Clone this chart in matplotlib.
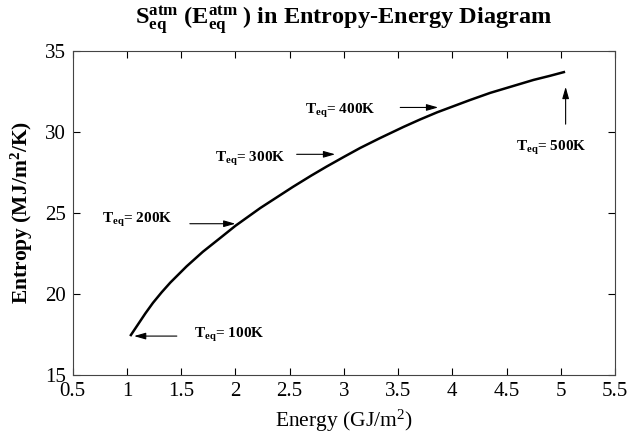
import matplotlib
matplotlib.use("Agg")
import matplotlib.pyplot as plt

plt.rcParams['font.family'] = ['Liberation Serif', 'DejaVu Serif']
plt.rcParams['mathtext.fontset'] = 'custom'
plt.rcParams['mathtext.rm'] = 'Liberation Serif'
plt.rcParams['mathtext.bf'] = 'Liberation Serif:bold'
plt.rcParams['mathtext.it'] = 'Liberation Serif:italic'

# Curve data
energy = [1.03, 1.10, 1.17, 1.24, 1.32, 1.40, 1.55, 1.70, 1.86, 2.00, 2.23, 2.38, 2.53,
          2.70, 2.84, 3.00, 3.15, 3.33, 3.55, 3.70, 3.86, 4.00, 4.16, 4.35, 4.55, 4.75,
          4.90, 5.04]
entropy = [17.4, 18.1, 18.8, 19.45, 20.1, 20.7, 21.7, 22.6, 23.45, 24.2, 25.3, 25.95, 26.6,
           27.3, 27.85, 28.45, 29.0, 29.6, 30.3, 30.75, 31.2, 31.55, 31.95, 32.4, 32.8, 33.2,
           33.45, 33.7]

# Temperature annotations
ann_labels = ["100K", "200K", "300K", "400K", "500K"]
ann_text_xy = [(1.62, 17.26), (0.77, 24.35), (1.81, 28.15), (2.64, 31.13), (4.59, 28.81)]
ann_tail = [(1.46, 17.40), (1.58, 24.33), (2.565, 28.61), (3.52, 31.50), (5.045, 30.47)]
ann_head = [(1.065, 17.40), (2.0, 24.33), (2.92, 28.61), (3.87, 31.50), (5.045, 32.77)]

xticks = [0.5, 1, 1.5, 2, 2.5, 3, 3.5, 4, 4.5, 5, 5.5]
xticklabels = ["0.5", "1", "1.5", "2", "2.5", "3", "3.5", "4", "4.5", "5", "5.5"]
yticks = [15, 20, 25, 30, 35]

fig = plt.figure(figsize=(6.29, 4.44), dpi=100)
ax = fig.add_axes([0.1156, 0.1554, 0.8621, 0.7304])

ax.plot(energy, entropy, color='black', lw=1.8, solid_capstyle='butt', solid_joinstyle='round')

for lab, txy, tail, head in zip(ann_labels, ann_text_xy, ann_tail, ann_head):
    ax.text(txy[0], txy[1], r"$\mathbf{T_{eq}}$= " + lab, fontsize=11,
            fontweight='bold', ha='left', va='baseline')
    ax.annotate("", xy=head, xytext=tail,
                arrowprops=dict(arrowstyle='-|>,head_length=0.7,head_width=0.2',
                                color='black', lw=0.8, shrinkA=0, shrinkB=0))

ax.set_xlim(0.5, 5.5)
ax.set_ylim(15, 35)
ax.set_xticks(xticks)
ax.set_xticklabels(xticklabels)
ax.set_yticks(yticks)
ax.tick_params(direction='in', length=5, width=0.8, top=True, right=True,
               labelsize=15, colors='black', pad=5)
for sp in ax.spines.values():
    sp.set_linewidth(0.8)
    sp.set_color('#444444')

ax.set_xlabel(r"Energy (GJ/m$^{2}$)", fontsize=15.5, labelpad=5)
ax.set_ylabel(r"Entropy (MJ/m$^{\mathbf{2}}$/K)", fontsize=15.5, fontweight='bold', labelpad=7)
fig.text(0.547, 0.945, r"$\mathbf{S_{eq}^{atm}}$ $\mathbf{(E_{eq}^{atm}\ )}$ in Entropy-Energy Diagram",
         fontsize=17.5, fontweight='bold', ha='center', va='baseline')

fig.savefig("out.png", dpi=100)
